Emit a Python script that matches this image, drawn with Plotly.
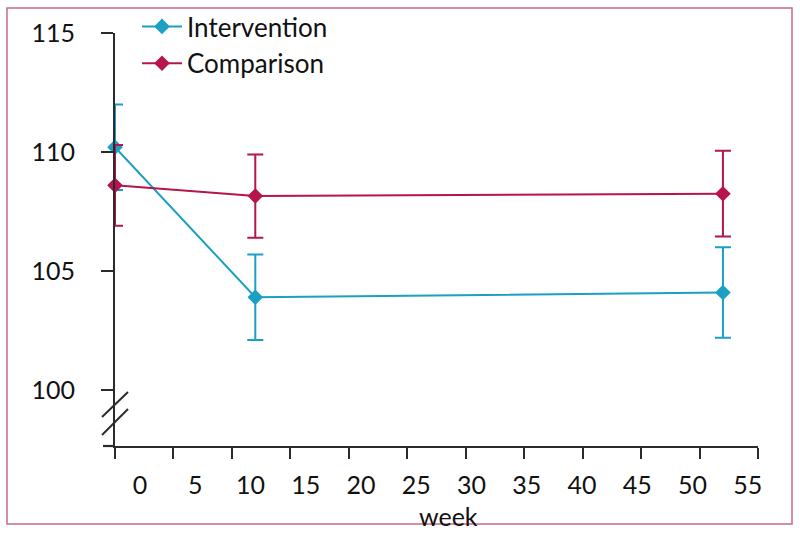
import plotly.graph_objects as go

weeks = [0, 12, 52]
intervention = [110.2, 103.9, 104.1]
intervention_err = [1.8, 1.8, 1.9]
comparison = [108.6, 108.15, 108.25]
comparison_err = [1.7, 1.75, 1.8]
series_names = ["Intervention", "Comparison"]
x_tick_vals = [0, 5, 10, 15, 20, 25, 30, 35, 40, 45, 50, 55]
y_tick_vals = [100, 105, 110, 115]

BLUE = "#1b9fc2"
RED = "#b5154b"
AXIS = "#2b2b2b"
FONT = "Lato, 'Open Sans', sans-serif"

# plot area in pixels
L, R, T, B = 115, 758, 33, 446
W, H = 800, 533
def px(xp):
    return (xp - L) / (R - L)
def py(yp):
    return (B - yp) / (B - T)

fig = go.Figure()
for name, vals, errs, col in [
    (series_names[0], intervention, intervention_err, BLUE),
    (series_names[1], comparison, comparison_err, RED),
]:
    fig.add_trace(go.Scatter(
        x=weeks, y=vals, name=name, mode="lines+markers",
        line=dict(color=col, width=2),
        marker=dict(symbol="diamond", size=12, color=col),
        error_y=dict(type="data", array=errs, visible=True, color=col,
                     thickness=2, width=8),
        cliponaxis=False,
    ))

# invisible trace for label axis
fig.add_trace(go.Scatter(x=[0], y=[100], xaxis="x2", mode="markers",
                         marker=dict(opacity=0), showlegend=False,
                         hoverinfo="skip"))

fig.update_layout(
    width=W, height=H,
    margin=dict(l=L, r=W - R, t=T, b=H - B, autoexpand=False),
    paper_bgcolor="white", plot_bgcolor="white",
    font=dict(family=FONT, size=25, color="#111"),
    showlegend=True,
    legend=dict(x=137 / W, y=1.0 - 3 / H, xref="container", yref="container",
                xanchor="left", yanchor="top",
                bgcolor="rgba(0,0,0,0)", font=dict(size=26),
                tracegroupgap=0, itemwidth=40),
    xaxis=dict(range=[0, 55], tickvals=x_tick_vals, showticklabels=False,
               ticks="outside", ticklen=11, tickwidth=2, tickcolor=AXIS,
               showline=True, linecolor=AXIS, linewidth=2.2,
               showgrid=False, zeroline=False),
    xaxis2=dict(range=[-(140 - L) / 11.05, (R - 140) / 11.05],
                overlaying="x", side="bottom", tickvals=x_tick_vals,
                ticktext=[str(v) for v in x_tick_vals],
                ticks="", showline=False, showgrid=False, zeroline=False,
                ticklabelstandoff=22, tickfont=dict(size=25)),
    yaxis=dict(range=[97.65, 115], tickvals=y_tick_vals,
               ticks="outside", ticklen=12, tickwidth=2, tickcolor=AXIS,
               showline=True, linecolor=AXIS, linewidth=2.2,
               showgrid=False, zeroline=False, ticklabelstandoff=21,
               tickfont=dict(size=25)),
)

shapes = []
# axis break marks
for y1, y2 in [(417, 392), (435, 409)]:
    shapes.append(dict(type="line", xref="paper", yref="paper",
                       x0=px(102), y0=py(y1), x1=px(128), y1=py(y2),
                       line=dict(color=AXIS, width=2)))
# small x-axis extension left of y axis
shapes.append(dict(type="line", xref="paper", yref="paper",
                   x0=px(103), y0=0, x1=0, y1=0,
                   line=dict(color=AXIS, width=2.2)))
# border
shapes.append(dict(type="rect", xref="paper", yref="paper",
                   x0=px(7), y0=py(524), x1=px(792), y1=py(8),
                   line=dict(color="#c76a8a", width=1.5),
                   fillcolor="rgba(0,0,0,0)", layer="below"))
fig.update_layout(shapes=shapes)

fig.add_annotation(text="week", xref="paper", yref="paper",
                   x=px(448), y=py(516), xanchor="center", yanchor="middle",
                   showarrow=False, font=dict(size=25, family=FONT))

fig.write_html("out.html", config={"displayModeBar": False},
               post_script="document.body.style.margin='0';document.body.style.overflow='hidden';")
